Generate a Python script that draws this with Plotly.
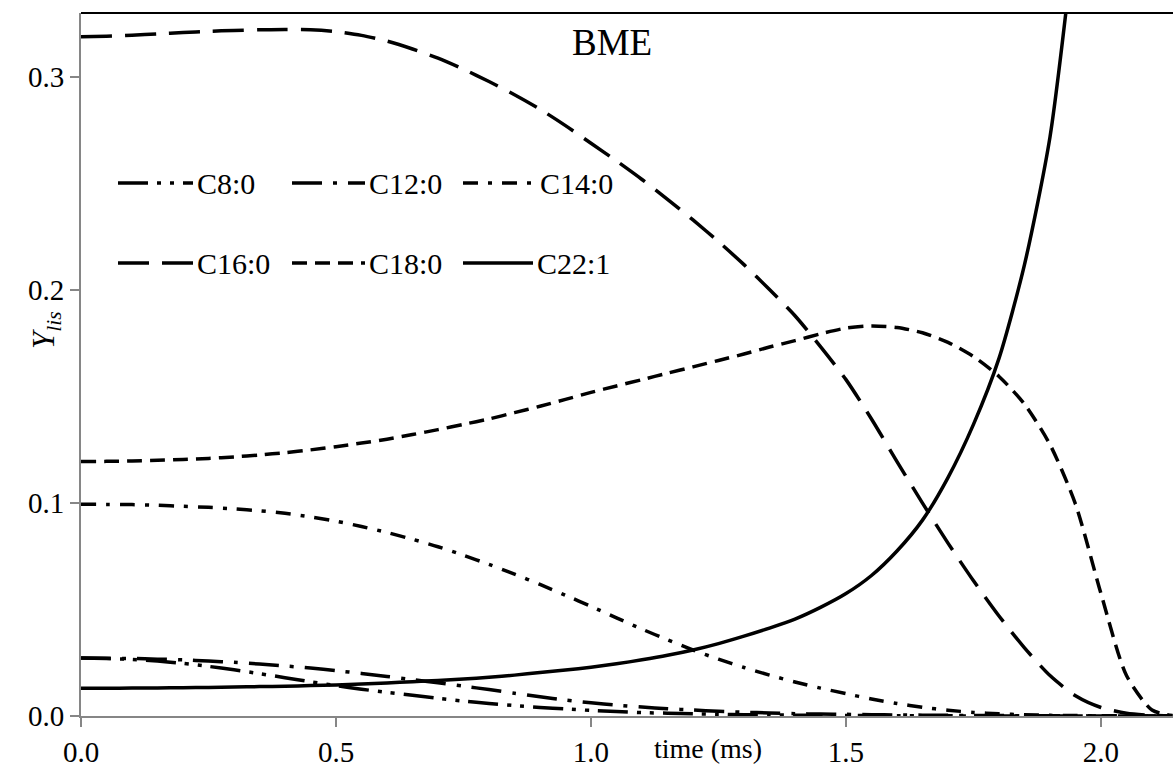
import plotly.graph_objects as go

# time grid (ms)
time_ms = [0.0, 0.05, 0.1, 0.15, 0.2, 0.25, 0.3, 0.35, 0.4, 0.45, 0.5, 0.55, 0.6, 0.65,
           0.7, 0.75, 0.8, 0.85, 0.9, 0.95, 1.0, 1.05, 1.1, 1.15, 1.2, 1.25, 1.3, 1.35,
           1.4, 1.45, 1.5, 1.55, 1.6, 1.65, 1.7, 1.75, 1.8, 1.85, 1.9, 1.95, 2.0, 2.05,
           2.1, 2.14]

# liquid-phase mass fractions of each species
c8_0 = [0.0272, 0.0270, 0.0266, 0.0258, 0.0247, 0.0233, 0.0217, 0.0199, 0.0180, 0.0161,
        0.0143, 0.0126, 0.0111, 0.0097, 0.0083, 0.0070, 0.0059, 0.0049, 0.0040, 0.0033,
        0.0026, 0.0021, 0.0016, 0.0013, 0.0010, 0.0008, 0.0006, 0.0005, 0.0004, 0.0003,
        0.0002, 0.0002, 0.0001, 0.0001, 0.0001, 0.0, 0.0, 0.0, 0.0, 0.0, 0.0, 0.0,
        0.0, 0.0]
c12_0 = [0.0272, 0.0271, 0.0270, 0.0267, 0.0264, 0.0258, 0.0252, 0.0244, 0.0235, 0.0225,
         0.0213, 0.0200, 0.0186, 0.0171, 0.0156, 0.0140, 0.0124, 0.0107, 0.0090, 0.0075,
         0.0062, 0.0051, 0.0042, 0.0034, 0.0028, 0.0022, 0.0018, 0.0014, 0.0011, 0.0009,
         0.0008, 0.0006, 0.0005, 0.0004, 0.0003, 0.0002, 0.0002, 0.0001, 0.0001, 0.0001,
         0.0, 0.0, 0.0, 0.0]
c14_0 = [0.0995, 0.0994, 0.0993, 0.0990, 0.0985, 0.0980, 0.0973, 0.0964, 0.0952, 0.0935,
         0.0915, 0.0890, 0.0862, 0.0830, 0.0795, 0.0755, 0.0712, 0.0666, 0.0618, 0.0567,
         0.0515, 0.0461, 0.0408, 0.0358, 0.0310, 0.0267, 0.0228, 0.0192, 0.0160, 0.0131,
         0.0105, 0.0080, 0.0059, 0.0041, 0.0027, 0.0017, 0.0010, 0.0006, 0.0003, 0.0002,
         0.0001, 0.0001, 0.0, 0.0]
c16_0 = [0.3190, 0.3193, 0.3198, 0.3204, 0.3210, 0.3216, 0.3220, 0.3223, 0.3225, 0.3223,
         0.3215, 0.3197, 0.3170, 0.3133, 0.3090, 0.3038, 0.2980, 0.2918, 0.2850, 0.2773,
         0.2690, 0.2607, 0.2520, 0.2427, 0.2330, 0.2228, 0.2120, 0.2003, 0.1880, 0.1735,
         0.1580, 0.1395, 0.1195, 0.1000, 0.0812, 0.0635, 0.0470, 0.0320, 0.0190, 0.0095,
         0.0040, 0.0013, 0.0003, 0.0001]
c18_0 = [0.1195, 0.1196, 0.1198, 0.1201, 0.1205, 0.1210, 0.1217, 0.1226, 0.1237, 0.1250,
         0.1265, 0.1282, 0.1300, 0.1322, 0.1345, 0.1370, 0.1395, 0.1425, 0.1455, 0.1487,
         0.1520, 0.1550, 0.1580, 0.1610, 0.1640, 0.1670, 0.1700, 0.1733, 0.1763, 0.1795,
         0.1822, 0.1832, 0.1825, 0.1800, 0.1755, 0.1688, 0.1595, 0.1465, 0.1275, 0.0995,
         0.0575, 0.0190, 0.0028, 0.0002]
c22_1 = [0.0130, 0.0130, 0.0131, 0.0132, 0.0133, 0.0134, 0.0136, 0.0138, 0.0140, 0.0143,
         0.0146, 0.0150, 0.0155, 0.0161, 0.0167, 0.0174, 0.0182, 0.0192, 0.0204, 0.0216,
         0.0229, 0.0245, 0.0264, 0.0285, 0.0310, 0.0340, 0.0375, 0.0413, 0.0455, 0.0510,
         0.0575, 0.0660, 0.0775, 0.0920, 0.1120, 0.1370, 0.1680, 0.2120, 0.2720, 0.3700,
         None, None, None, None]

names = ["C8:0", "C12:0", "C14:0", "C16:0", "C18:0", "C22:1"]
values = [c8_0, c12_0, c14_0, c16_0, c18_0, c22_1]
dashes = ["30px,9px,4px,9px,4px,9px",
          "30px,11px,4px,11px",
          "15px,10px,4px,10px",
          "31px,13px",
          "15px,8px",
          "solid"]

SERIF = "Liberation Serif"

fig = go.Figure()
for name, ys, dash in zip(names, values, dashes):
    fig.add_trace(go.Scatter(
        x=time_ms, y=ys, name=name, mode="lines",
        line=dict(color="black", width=3.5, dash=dash, shape="spline", smoothing=0.7),
        showlegend=False,
    ))

# plot-area geometry in pixels
W, H = 1173, 775
ML, MR, MT, MB = 81, 0, 13, 59
PW, PH = W - ML - MR, H - MT - MB


def px(xp):
    return (xp - ML) / PW


def py(yp):
    return (H - MB - yp) / PH


shapes = [dict(type="line", xref="paper", yref="paper", x0=0, x1=1, y0=1, y1=1,
               line=dict(color="black", width=2))]
annotations = []

# hand-placed legend: sample line + label, two rows of three
legend_slots = [(118, 193, 183), (292, 365, 183), (463, 536, 183),
                (118, 193, 263), (292, 365, 263), (463, 533, 263)]
for (x0, x1, yc), name, dash in zip(legend_slots, names, dashes):
    shapes.append(dict(type="line", xref="paper", yref="paper",
                       x0=px(x0), x1=px(x1), y0=py(yc), y1=py(yc),
                       line=dict(color="black", width=3.5, dash=dash)))
    annotations.append(dict(xref="paper", yref="paper", x=px(x1 + 2), y=py(yc),
                            xanchor="left", yanchor="middle", showarrow=False,
                            text=name, font=dict(family=SERIF, size=30, color="black")))

annotations.append(dict(xref="paper", yref="paper", x=px(612), y=py(42),
                        xanchor="center", yanchor="middle", showarrow=False,
                        text="BME", font=dict(family=SERIF, size=37, color="black")))
annotations.append(dict(xref="paper", yref="paper", x=px(708), y=py(748),
                        xanchor="center", yanchor="middle", showarrow=False,
                        text="time (ms)", font=dict(family=SERIF, size=28, color="black")))
annotations.append(dict(xref="paper", yref="paper", x=px(46), y=py(330),
                        xanchor="center", yanchor="middle", showarrow=False, textangle=-90,
                        text="<i>Y<sub>lis</sub></i>",
                        font=dict(family=SERIF, size=31, color="black")))

axis_common = dict(
    showline=True, linecolor="#868686", linewidth=2,
    ticks="outside", ticklen=9, tickwidth=2, tickcolor="#868686",
    showgrid=False, zeroline=False,
    tickfont=dict(family=SERIF, size=29, color="black"),
)

fig.update_layout(
    width=W, height=H,
    margin=dict(l=ML, r=MR, t=MT, b=MB, pad=0),
    plot_bgcolor="white", paper_bgcolor="white",
    xaxis=dict(range=[0, 2.1412], tickvals=[0, 0.5, 1.0, 1.5, 2.0],
               tickformat=".1f", **axis_common),
    yaxis=dict(range=[0, 0.3302], tickvals=[0, 0.1, 0.2, 0.3],
               tickformat=".1f", **axis_common),
    shapes=shapes,
    annotations=annotations,
)

fig.write_html("out.html")
